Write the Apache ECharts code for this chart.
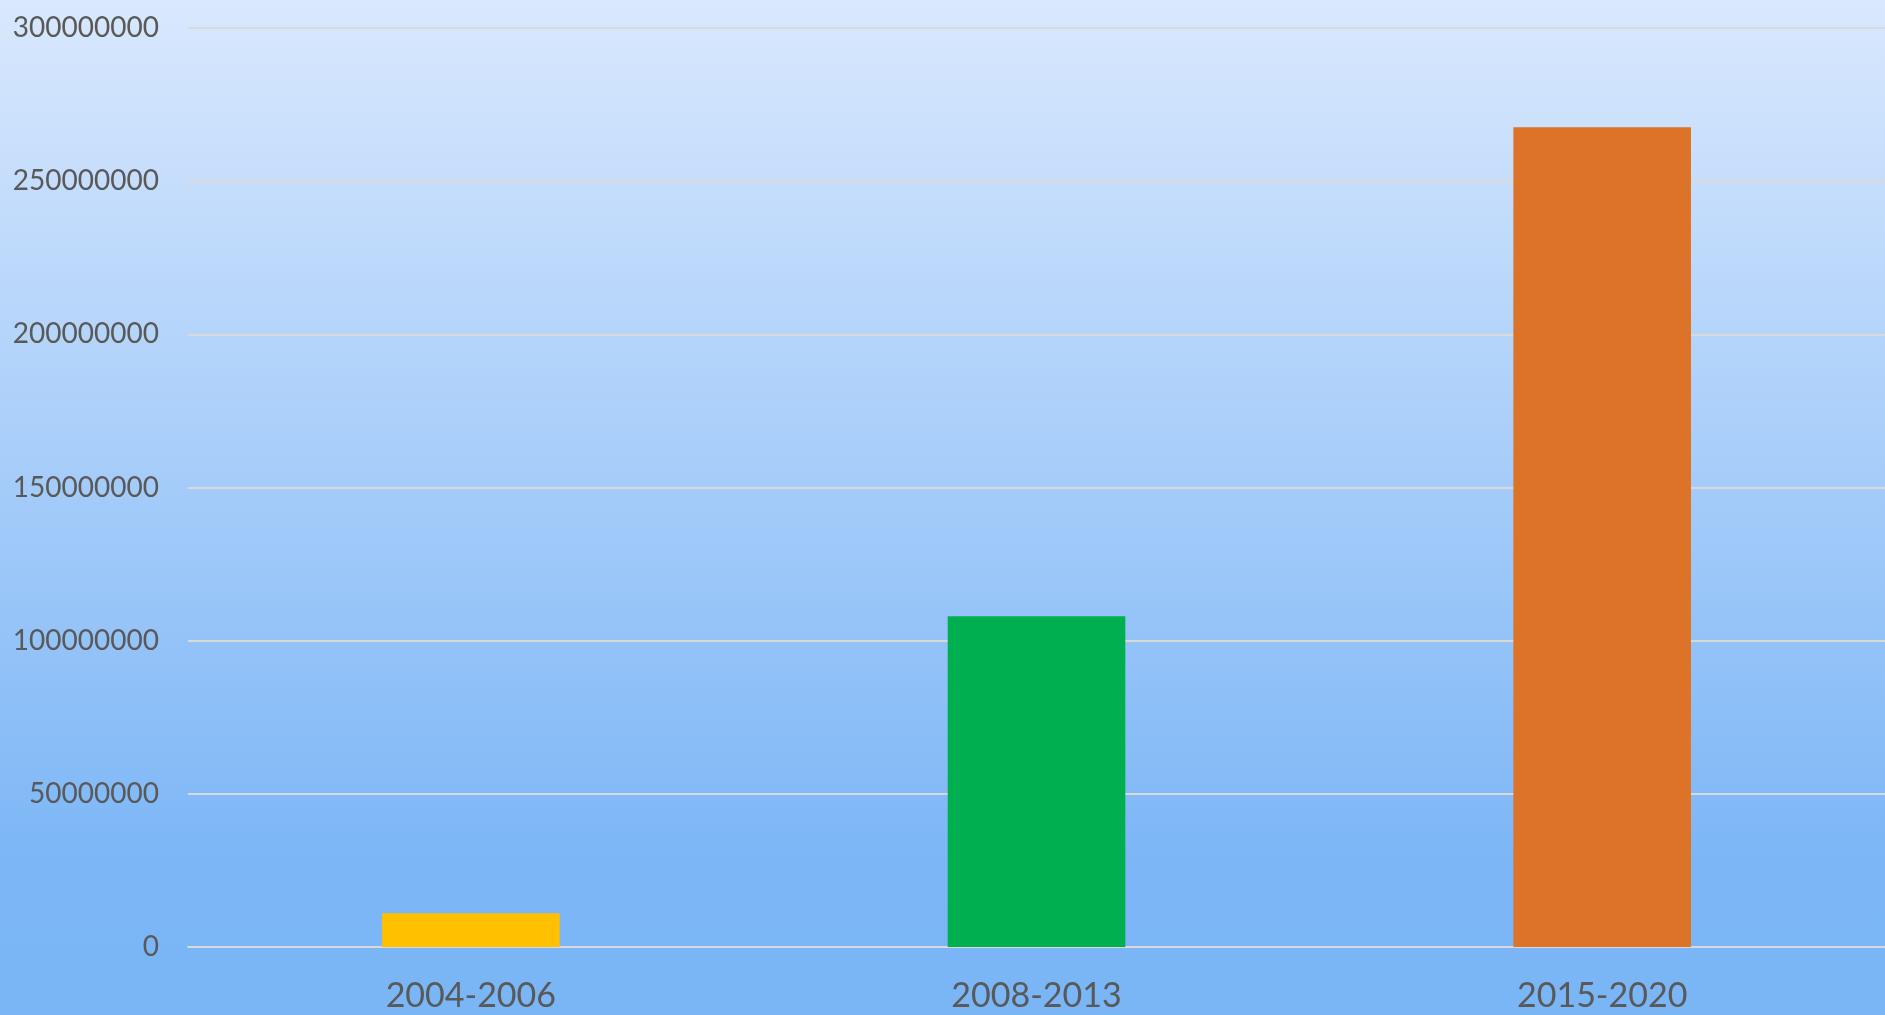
<!DOCTYPE html>
<html>
<head>
<meta charset="utf-8">
<script src="https://cdn.jsdelivr.net/npm/echarts@6/dist/echarts.min.js"></script>
<style>
  html, body { margin: 0; padding: 0; }
  #chart { width: 1885px; height: 1015px; }
</style>
</head>
<body>
<div id="chart"></div>
<script>
// 数据
const periods = ['2004-2006', '2008-2013', '2015-2020'];
const values = [11000000, 108000000, 267600000];
const barColors = ['#FFC000', '#00B050', '#DD7329'];

const chart = echarts.init(document.getElementById('chart'));

const option = {
    animation: false,
    backgroundColor: new echarts.graphic.LinearGradient(0, 0, 0, 1, [
        { offset: 0, color: '#d9e8fd' },
        { offset: 0.85, color: '#7cb6f6' },
        { offset: 1, color: '#7ab5f6' }
    ]),
    grid: {
        left: 188,
        width: 1702,
        top: 28,
        bottom: 68
    },
    xAxis: {
        type: 'category',
        data: periods,
        axisLine: {
            lineStyle: { color: '#d9d9d9', width: 2 }
        },
        axisTick: { show: false },
        axisLabel: {
            color: '#595959',
            fontFamily: 'Lato',
            fontSize: 34,
            margin: 32
        }
    },
    yAxis: {
        type: 'value',
        min: 0,
        max: 300000000,
        interval: 50000000,
        axisLine: { show: false },
        axisTick: { show: false },
        axisLabel: {
            color: '#595959',
            fontFamily: 'Lato',
            fontSize: 28,
            margin: 29,
            formatter: function(value) {
                return String(value);
            }
        },
        splitLine: {
            lineStyle: { color: '#d9d9d9', width: 2 }
        }
    },
    series: [
        {
            type: 'bar',
            data: values.map((v, i) => ({ value: v, itemStyle: { color: barColors[i] } })),
            barWidth: '31.4%'
        }
    ]
};

chart.setOption(option);

window.addEventListener('resize', function() {
    chart.resize();
});
</script>
</body>
</html>
